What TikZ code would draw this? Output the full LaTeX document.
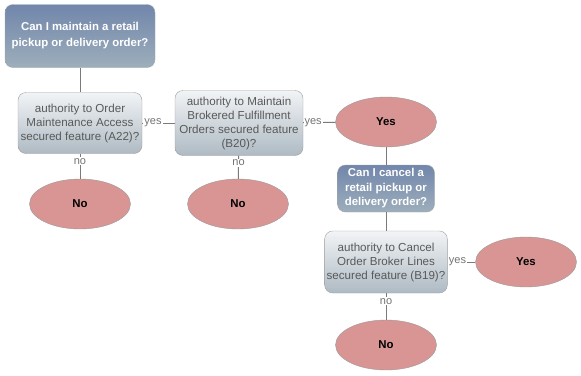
\documentclass[tikz,border=0pt]{standalone}
\usepackage{fontspec}
\setmainfont{Liberation Sans}
\usetikzlibrary{shapes.geometric}

\definecolor{qtop}{HTML}{7186AB}
\definecolor{qbot}{HTML}{9DAEBB}
\definecolor{ctop}{HTML}{F2F4F6}
\definecolor{cbot}{HTML}{AEBAC3}
\definecolor{ansfill}{HTML}{D99594}
\definecolor{edgegray}{HTML}{7A7A7A}

\begin{document}
\begin{tikzpicture}[x=1pt, y=-1pt,
  question/.style={draw=gray!70, rounded corners=8pt, top color=qtop, bottom color=qbot, text=white, align=center, font=\fontsize{11.4}{16}\selectfont\bfseries},
  check/.style={draw=gray!75, rounded corners=8pt, top color=ctop, bottom color=cbot, text=black!65, align=center, inner sep=2pt, font=\fontsize{11.6}{14}\selectfont},
  answer/.style={ellipse, draw=gray!80, fill=ansfill, minimum width=101pt, minimum height=50pt, font=\fontsize{11.4}{13}\selectfont\bfseries},
  lbl/.style={fill=white, inner sep=1pt, text=black!55, font=\fontsize{11}{12}\selectfont},
  link/.style={draw=edgegray, line width=1pt}]

\useasboundingbox (0,0) rectangle (581,375);

\node[question, minimum width=150pt, minimum height=63pt] (q1) at (80,36) {Can I maintain a retail\\pickup or delivery order?};
\node[check, minimum width=124pt, minimum height=61pt] (a22) at (80,123) {authority to Order\\Maintenance Access\\secured feature (A22)?};
\node[check, minimum width=128pt, minimum height=65pt] (b20) at (239,123) {authority to Maintain\\Brokered Fulfillment\\Orders secured feature\\(B20)?};
\node[answer] (yes1) at (386,122) {Yes};
\node[answer] (no1) at (80,204) {No};
\node[answer] (no2) at (238,204) {No};
\node[question, minimum width=97pt, minimum height=47pt, inner sep=2pt, font=\fontsize{11.4}{14.5}\selectfont\bfseries] (q2) at (386,188.5) {Can I cancel a\\retail pickup or\\delivery order?};
\node[check, minimum width=122pt, minimum height=62pt] (b19) at (386,262) {authority to Cancel\\Order Broker Lines\\secured feature (B19)?};
\node[answer] (yes2) at (526,262) {Yes};
\node[answer] (no3) at (386,345) {No};

\draw[link] (q1) -- (a22);
\draw[link] (a22) -- node[lbl, pos=0.33] {yes} (b20);
\draw[link] (a22) -- node[lbl, pos=0.3] {no} (no1);
\draw[link] (b20) -- node[lbl, pos=0.31] {yes} (yes1);
\draw[link] (b20) -- node[lbl, pos=0.3] {no} (no2);
\draw[link] (yes1) -- (q2);
\draw[link] (q2) -- (b19);
\draw[link] (b19) -- node[lbl, pos=0.36] {yes} (yes2);
\draw[link] (b19) -- node[lbl, pos=0.3] {no} (no3);

\end{tikzpicture}
\end{document}
